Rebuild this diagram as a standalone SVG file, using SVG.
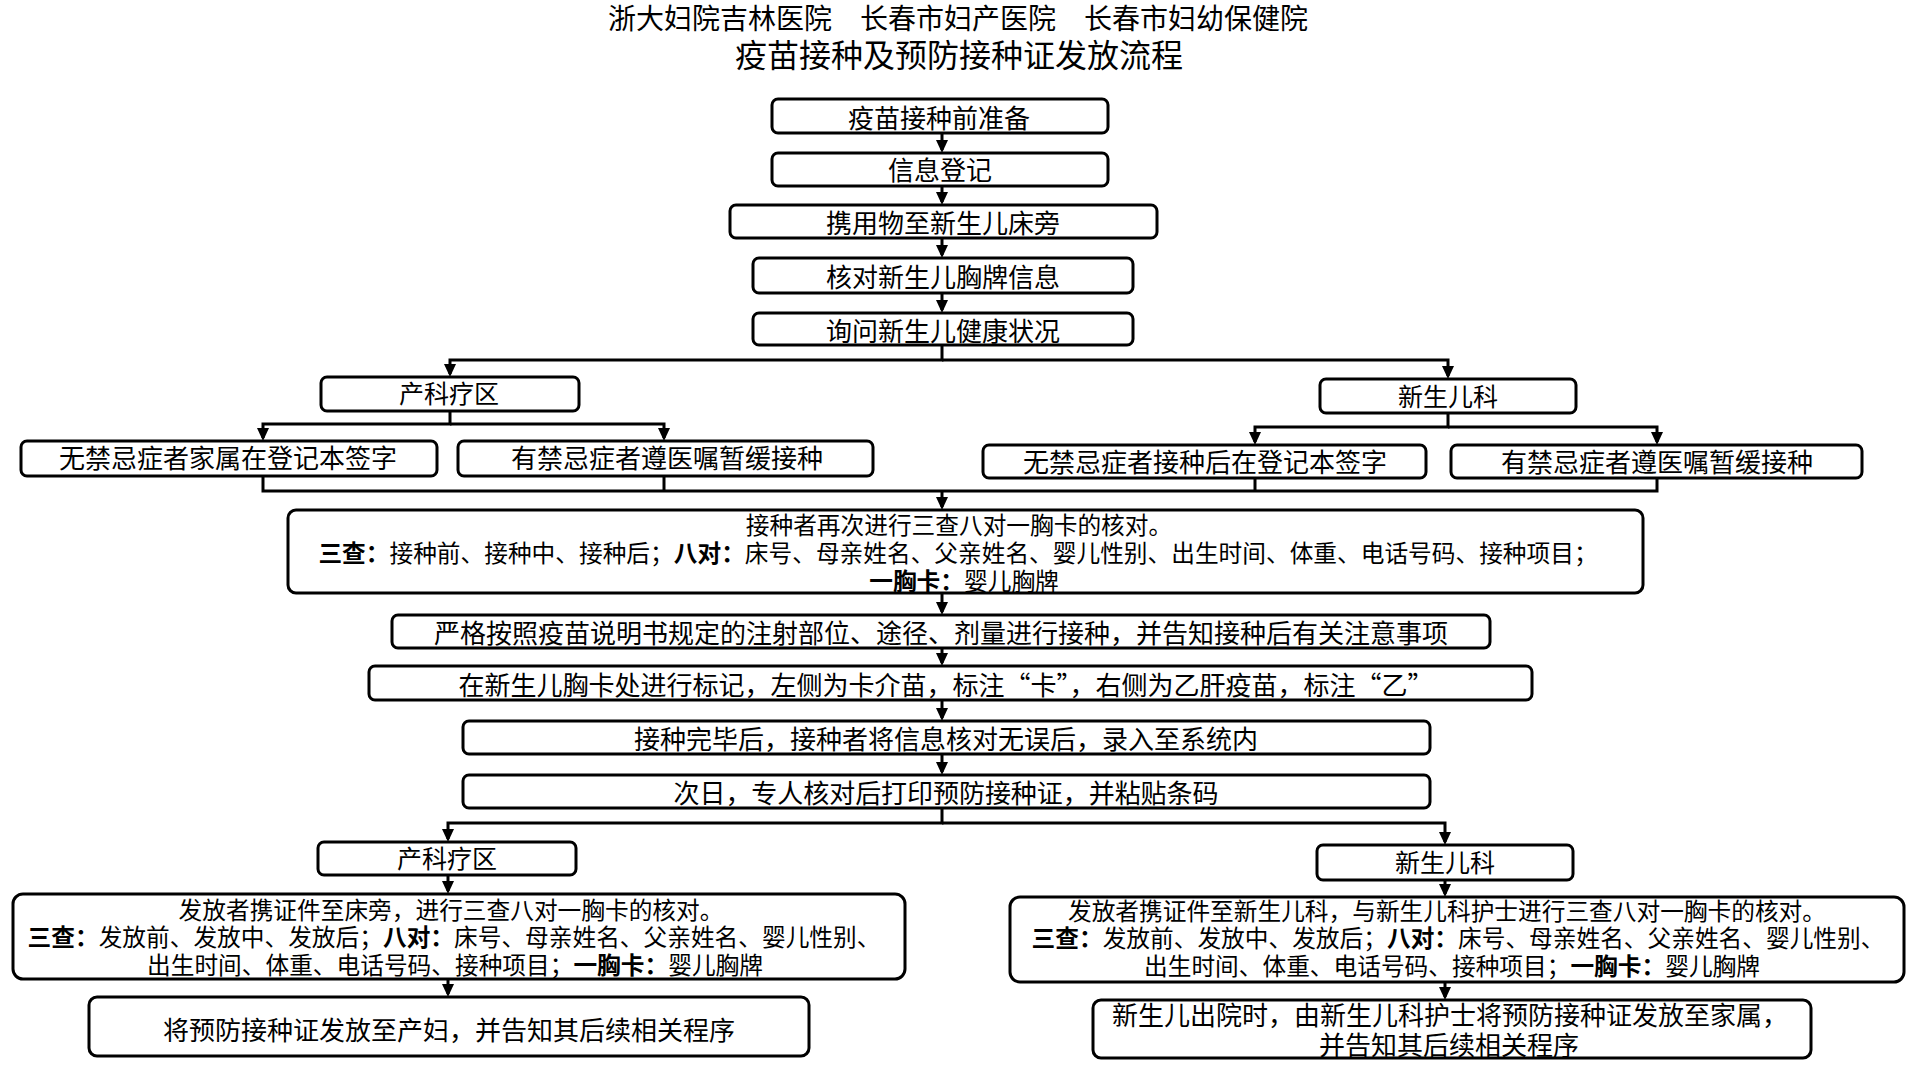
<svg xmlns="http://www.w3.org/2000/svg" width="1916" height="1066" viewBox="0 0 1916 1066">
<style>
.box{fill:#fff;stroke:#000;stroke-width:3}
.t{font-family:"Liberation Sans","Noto Sans CJK SC","Noto Sans CJK TC",sans-serif;font-size:26px;text-anchor:middle;fill:#000}
.s{font-size:23.7px}
.m{font-size:25px}
.b{font-weight:bold}
.q{font-family:"Noto Sans CJK SC","Noto Sans CJK TC",sans-serif}
.c{fill:none;stroke:#000;stroke-width:3}
</style>
<defs>
<marker id="ah" markerUnits="userSpaceOnUse" markerWidth="13" markerHeight="13" refX="10" refY="6" orient="auto">
<path d="M0,0 L13,6 L0,12 z" fill="#000"/>
</marker>
</defs>
<rect width="1916" height="1066" fill="#fff"/>
<g id="title">
<text class="t" x="958" y="29" style="font-size:28px">浙大妇院吉林医院　长春市妇产医院　长春市妇幼保健院</text>
<text class="t" x="959" y="67" style="font-size:32px">疫苗接种及预防接种证发放流程</text>
</g>
<g id="connectors">
<path class="c" marker-end="url(#ah)" d="M942,133 V150"/>
<path class="c" marker-end="url(#ah)" d="M942,186 V202"/>
<path class="c" marker-end="url(#ah)" d="M942,238 V255"/>
<path class="c" marker-end="url(#ah)" d="M942,293 V310"/>
<path class="c" marker-end="url(#ah)" d="M942,345 V360 H450 V374"/>
<path class="c" marker-end="url(#ah)" d="M942,360 H1448 V376"/>
<path class="c" marker-end="url(#ah)" d="M450,411 V424 H263 V438"/>
<path class="c" marker-end="url(#ah)" d="M450,424 H664 V438"/>
<path class="c" marker-end="url(#ah)" d="M1448,413 V427 H1255 V442"/>
<path class="c" marker-end="url(#ah)" d="M1448,427 H1657 V442"/>
<path class="c" d="M263,476 V491 H1657 V478 M664,476 V491 M1255,478 V491"/>
<path class="c" marker-end="url(#ah)" d="M942,491 V507"/>
<path class="c" marker-end="url(#ah)" d="M942,593 V612"/>
<path class="c" marker-end="url(#ah)" d="M942,648 V663"/>
<path class="c" marker-end="url(#ah)" d="M942,700 V718"/>
<path class="c" marker-end="url(#ah)" d="M942,754 V772"/>
<path class="c" marker-end="url(#ah)" d="M942,808 V823 H448 V839"/>
<path class="c" marker-end="url(#ah)" d="M942,823 H1445 V842"/>
<path class="c" marker-end="url(#ah)" d="M448,875 V891"/>
<path class="c" marker-end="url(#ah)" d="M448,979 V994"/>
<path class="c" marker-end="url(#ah)" d="M1445,880 V894"/>
<path class="c" marker-end="url(#ah)" d="M1445,982 V997"/>
</g>
<g id="n1"><rect class="box" x="772" y="99" width="336" height="34" rx="6"/><text class="t" x="939" y="128">疫苗接种前准备</text></g>
<g id="n2"><rect class="box" x="772" y="153" width="336" height="33" rx="6"/><text class="t" x="940" y="180">信息登记</text></g>
<g id="n3"><rect class="box" x="730" y="205" width="427" height="33" rx="6"/><text class="t" x="943" y="233">携用物至新生儿床旁</text></g>
<g id="n4"><rect class="box" x="753" y="258" width="380" height="35" rx="6"/><text class="t" x="943" y="287">核对新生儿胸牌信息</text></g>
<g id="n5"><rect class="box" x="753" y="313" width="380" height="32" rx="6"/><text class="t" x="943" y="341">询问新生儿健康状况</text></g>
<g id="n6"><rect class="box" x="321" y="377" width="258" height="34" rx="6"/><text class="t m" x="449" y="403">产科疗区</text></g>
<g id="n7"><rect class="box" x="1320" y="379" width="256" height="34" rx="6"/><text class="t m" x="1448" y="406">新生儿科</text></g>
<g id="n8"><rect class="box" x="21" y="441" width="416" height="35" rx="6"/><text class="t" x="228" y="468">无禁忌症者家属在登记本签字</text></g>
<g id="n9"><rect class="box" x="458" y="441" width="415" height="35" rx="6"/><text class="t" x="667" y="468">有禁忌症者遵医嘱暂缓接种</text></g>
<g id="n10"><rect class="box" x="983" y="445" width="443" height="33" rx="6"/><text class="t" x="1205" y="472">无禁忌症者接种后在登记本签字</text></g>
<g id="n11"><rect class="box" x="1451" y="445" width="411" height="33" rx="6"/><text class="t" x="1657" y="472">有禁忌症者遵医嘱暂缓接种</text></g>
<g id="n12"><rect class="box" x="288" y="510" width="1355" height="83" rx="8"/>
<text class="t s" x="959" y="534">接种者再次进行三查八对一胸卡的核对。</text>
<text class="t s" x="958" y="562"><tspan class="b">三查：</tspan>接种前、接种中、接种后；<tspan class="b">八对：</tspan>床号、母亲姓名、父亲姓名、婴儿性别、出生时间、体重、电话号码、接种项目；</text>
<text class="t s" x="964" y="590"><tspan class="b">一胸卡：</tspan>婴儿胸牌</text>
</g>
<g id="n13"><rect class="box" x="392" y="615" width="1098" height="33" rx="6"/><text class="t" x="941" y="643">严格按照疫苗说明书规定的注射部位、途径、剂量进行接种，并告知接种后有关注意事项</text></g>
<g id="n14"><rect class="box" x="369" y="666" width="1163" height="34" rx="6"/><text class="t" x="946" y="695" textLength="975" lengthAdjust="spacing">在新生儿胸卡处进行标记，左侧为卡介苗，标注<tspan class="q">“卡”</tspan>，右侧为乙肝疫苗，标注<tspan class="q">“乙”</tspan></text></g>
<g id="n15"><rect class="box" x="463" y="721" width="967" height="33" rx="6"/><text class="t" x="946" y="749">接种完毕后，接种者将信息核对无误后，录入至系统内</text></g>
<g id="n16"><rect class="box" x="463" y="775" width="967" height="33" rx="6"/><text class="t" x="946" y="803" textLength="545" lengthAdjust="spacing">次日，专人核对后打印预防接种证，并粘贴条码</text></g>
<g id="n17"><rect class="box" x="318" y="842" width="258" height="33" rx="6"/><text class="t m" x="447" y="868">产科疗区</text></g>
<g id="n18"><rect class="box" x="1317" y="845" width="256" height="35" rx="6"/><text class="t m" x="1445" y="872">新生儿科</text></g>
<g id="n19"><rect class="box" x="13" y="894" width="892" height="85" rx="10"/>
<text class="t s" x="451" y="919">发放者携证件至床旁，进行三查八对一胸卡的核对。</text>
<text class="t s" x="454" y="946"><tspan class="b">三查：</tspan>发放前、发放中、发放后；<tspan class="b">八对：</tspan>床号、母亲姓名、父亲姓名、婴儿性别、</text>
<text class="t s" x="455" y="974">出生时间、体重、电话号码、接种项目；<tspan class="b">一胸卡：</tspan>婴儿胸牌</text>
</g>
<g id="n20"><rect class="box" x="1010" y="897" width="894" height="85" rx="10"/>
<text class="t s" x="1447" y="920">发放者携证件至新生儿科，与新生儿科护士进行三查八对一胸卡的核对。</text>
<text class="t s" x="1458" y="947"><tspan class="b">三查：</tspan>发放前、发放中、发放后；<tspan class="b">八对：</tspan>床号、母亲姓名、父亲姓名、婴儿性别、</text>
<text class="t s" x="1452" y="975">出生时间、体重、电话号码、接种项目；<tspan class="b">一胸卡：</tspan>婴儿胸牌</text>
</g>
<g id="n21"><rect class="box" x="89" y="997" width="720" height="59" rx="8"/><text class="t" x="449" y="1040">将预防接种证发放至产妇，并告知其后续相关程序</text></g>
<g id="n22"><rect class="box" x="1093" y="1000" width="718" height="58" rx="8"/>
<text class="t" x="1450" y="1025">新生儿出院时，由新生儿科护士将预防接种证发放至家属，</text>
<text class="t" x="1449" y="1055">并告知其后续相关程序</text>
</g>
</svg>
